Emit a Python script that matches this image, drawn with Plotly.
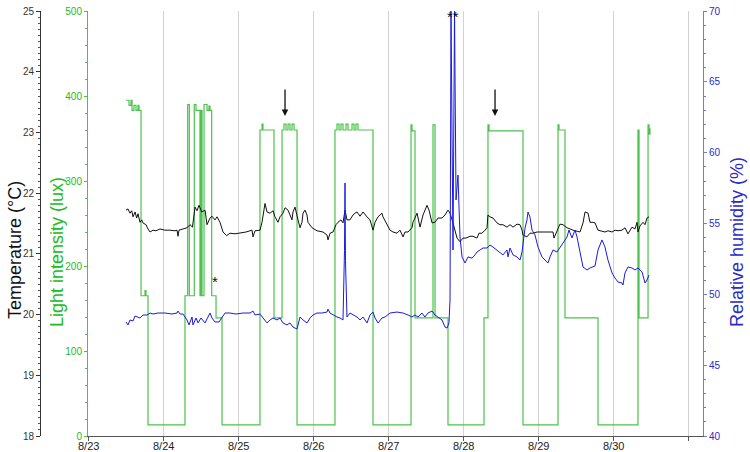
import pandas as pd
import plotly.graph_objects as go

BASE = pd.Timestamp("2013-08-23")

# ---------------- data (days since 8/23 00:00) ----------------
light_days = [0.507, 0.547, 0.573, 0.587, 0.613, 0.64, 0.667, 0.68, 0.707, 0.76, 0.773, 0.80,
              1.293, 1.329, 1.351, 1.417, 1.44, 1.493, 1.507, 1.52, 1.547, 1.587, 1.613, 1.627,
              1.649, 1.707, 1.787, 2.293, 2.32, 2.333, 2.48, 2.587, 2.613, 2.64, 2.667, 2.693,
              2.72, 2.747, 2.787, 3.293, 3.32, 3.347, 3.373, 3.40, 3.44, 3.467, 3.52, 3.547,
              3.573, 3.60, 3.80, 4.307, 4.32, 4.36, 4.60, 4.627, 4.80, 5.28, 5.333, 5.347,
              5.80, 6.267, 6.28, 6.36, 6.80, 7.333, 7.347, 7.467, 7.48, 7.493]
light_lux = [395, 389, 395, 383, 389, 383, 389, 383, 165, 171, 165, 13,
             165, 390, 165, 390, 383, 165, 383, 165, 390, 383, 388, 383,
             165, 139, 13, 360, 367, 360, 139, 360, 367, 360, 367, 360,
             367, 360, 13, 360, 367, 360, 367, 360, 367, 360, 367, 360,
             367, 360, 13, 366, 359, 139, 366, 139, 13, 139, 366, 359,
             13, 366, 360, 139, 13, 360, 139, 366, 355, 362]

temp_days = [0.507, 0.533, 0.56, 0.583, 0.60, 0.627, 0.649, 0.667, 0.693, 0.716, 0.733, 0.773,
             0.80, 0.827, 0.867, 0.907, 0.96, 1.027, 1.093, 1.16, 1.187, 1.20, 1.213, 1.267,
             1.32, 1.36, 1.393, 1.427, 1.453, 1.48, 1.516, 1.56, 1.587, 1.627, 1.653, 1.693,
             1.72, 1.76, 1.80, 1.849, 1.893, 1.96, 2.027, 2.107, 2.187, 2.20, 2.227, 2.293,
             2.32, 2.333, 2.36, 2.387, 2.427, 2.467, 2.493, 2.533, 2.56, 2.60, 2.627, 2.667,
             2.693, 2.72, 2.733, 2.76, 2.80, 2.827, 2.853, 2.867, 2.893, 2.92, 2.933, 2.987,
             3.053, 3.133, 3.187, 3.20, 3.227, 3.267, 3.307, 3.333, 3.373, 3.40, 3.427, 3.453,
             3.493, 3.533, 3.56, 3.587, 3.627, 3.667, 3.72, 3.76, 3.80, 3.827, 3.867, 3.92,
             3.933, 3.987, 4.027, 4.067, 4.12, 4.16, 4.20, 4.227, 4.267, 4.32, 4.333, 4.387,
             4.427, 4.467, 4.52, 4.547, 4.587, 4.627, 4.667, 4.72, 4.76, 4.80, 4.827, 4.867,
             4.893, 4.92, 4.96, 5.00, 5.04, 5.093, 5.133, 5.187, 5.213, 5.253, 5.293, 5.32,
             5.333, 5.36, 5.40, 5.453, 5.493, 5.533, 5.587, 5.627, 5.667, 5.72, 5.76, 5.787,
             5.80, 5.853, 5.893, 5.933, 5.987, 6.027, 6.12, 6.20, 6.213, 6.253, 6.293, 6.333,
             6.387, 6.467, 6.52, 6.56, 6.60, 6.627, 6.667, 6.693, 6.733, 6.76, 6.80, 6.853,
             6.893, 6.933, 6.987, 7.027, 7.067, 7.12, 7.16, 7.20, 7.227, 7.253, 7.293, 7.32,
             7.333, 7.36, 7.40, 7.427, 7.453, 7.48]
temp_c = [21.72, 21.74, 21.67, 21.71, 21.61, 21.69, 21.59, 21.66, 21.52, 21.56, 21.51, 21.48,
          21.41, 21.36, 21.39, 21.38, 21.41, 21.39, 21.39, 21.38, 21.39, 21.29, 21.39, 21.41,
          21.43, 21.48, 21.44, 21.77, 21.71, 21.80, 21.69, 21.72, 21.48, 21.59, 21.62, 21.56,
          21.61, 21.52, 21.36, 21.30, 21.34, 21.33, 21.34, 21.36, 21.39, 21.28, 21.38, 21.39,
          21.52, 21.64, 21.83, 21.69, 21.67, 21.71, 21.61, 21.52, 21.61, 21.67, 21.76, 21.72,
          21.64, 21.56, 21.69, 21.77, 21.56, 21.43, 21.52, 21.67, 21.72, 21.64, 21.52, 21.43,
          21.38, 21.36, 21.31, 21.23, 21.34, 21.36, 21.48, 21.52, 21.56, 21.51, 21.72, 21.56,
          21.56, 21.64, 21.67, 21.69, 21.62, 21.69, 21.61, 21.56, 21.39, 21.52, 21.61, 21.67,
          21.61, 21.48, 21.39, 21.36, 21.34, 21.39, 21.28, 21.36, 21.36, 21.43, 21.52, 21.67,
          21.44, 21.64, 21.80, 21.72, 21.51, 21.52, 21.59, 21.59, 21.64, 21.72, 21.67, 21.51,
          21.39, 21.26, 21.20, 21.26, 21.26, 21.29, 21.29, 21.26, 21.34, 21.34, 21.39, 21.43,
          21.64, 21.61, 21.59, 21.51, 21.48, 21.48, 21.44, 21.48, 21.44, 21.49, 21.48, 21.39,
          21.31, 21.28, 21.34, 21.34, 21.36, 21.36, 21.36, 21.36, 21.26, 21.39, 21.49, 21.48,
          21.43, 21.39, 21.38, 21.36, 21.51, 21.69, 21.67, 21.52, 21.52, 21.51, 21.39, 21.38,
          21.36, 21.38, 21.36, 21.39, 21.38, 21.39, 21.43, 21.33, 21.39, 21.44, 21.41, 21.52,
          21.36, 21.46, 21.52, 21.48, 21.59, 21.61]

rh_days = [0.507, 0.533, 0.56, 0.60, 0.627, 0.653, 0.693, 0.733, 0.787, 0.827, 0.867, 0.933,
           1.027, 1.12, 1.187, 1.20, 1.227, 1.267, 1.32, 1.347, 1.387, 1.40, 1.44, 1.467,
           1.507, 1.56, 1.60, 1.627, 1.653, 1.693, 1.747, 1.787, 1.827, 1.893, 1.973, 2.067,
           2.16, 2.20, 2.227, 2.293, 2.333, 2.387, 2.427, 2.467, 2.52, 2.56, 2.60, 2.653,
           2.693, 2.733, 2.787, 2.80, 2.827, 2.867, 2.92, 2.96, 3.00, 3.053, 3.12, 3.187,
           3.20, 3.227, 3.267, 3.32, 3.36, 3.40, 3.42, 3.427, 3.433, 3.453, 3.493, 3.533,
           3.587, 3.627, 3.667, 3.72, 3.76, 3.80, 3.827, 3.867, 3.92, 3.96, 4.027, 4.12,
           4.20, 4.267, 4.32, 4.36, 4.40, 4.453, 4.493, 4.533, 4.587, 4.627, 4.667, 4.72,
           4.76, 4.787, 4.813, 4.827, 4.84, 4.867, 4.887, 4.907, 4.933, 4.96, 4.987, 5.027,
           5.067, 5.12, 5.16, 5.187, 5.227, 5.267, 5.32, 5.36, 5.40, 5.453, 5.493, 5.533,
           5.587, 5.60, 5.627, 5.667, 5.72, 5.76, 5.787, 5.80, 5.827, 5.853, 5.867, 5.893,
           5.92, 5.96, 6.00, 6.053, 6.093, 6.133, 6.16, 6.20, 6.253, 6.293, 6.333, 6.387,
           6.413, 6.453, 6.493, 6.52, 6.56, 6.60, 6.653, 6.693, 6.76, 6.80, 6.853, 6.867,
           6.893, 6.933, 6.987, 7.027, 7.067, 7.12, 7.133, 7.16, 7.20, 7.253, 7.293, 7.333,
           7.387, 7.427, 7.453, 7.48]
rh_pct = [48.05, 47.84, 48.19, 48.12, 48.47, 48.40, 48.33, 48.54, 48.54, 48.68, 48.61, 48.68,
          48.68, 48.61, 48.68, 48.82, 48.61, 48.61, 48.19, 47.84, 48.40, 47.84, 48.33, 47.98,
          48.33, 47.98, 48.40, 48.68, 48.33, 48.05, 48.05, 48.33, 48.68, 48.68, 48.61, 48.68,
          48.68, 48.82, 48.54, 48.61, 48.33, 47.98, 48.19, 48.33, 48.19, 48.33, 47.98, 47.84,
          47.98, 47.69, 47.55, 47.84, 48.40, 48.19, 47.98, 48.33, 48.54, 48.68, 48.68, 48.75,
          48.96, 48.68, 48.54, 48.40, 48.33, 48.19, 53.1, 57.86, 52.4, 48.40, 48.68, 48.54,
          48.40, 48.19, 48.40, 47.98, 48.54, 48.75, 48.33, 47.98, 48.33, 48.40, 48.68, 48.75,
          48.68, 48.54, 48.40, 48.54, 48.40, 48.68, 48.40, 48.68, 48.82, 48.54, 48.40, 48.19,
          47.69, 47.62, 47.98, 49.6, 70.0, 53.13, 70.0, 56.66, 58.42, 54.05, 52.64, 52.21,
          52.64, 52.56, 52.78, 52.99, 53.13, 53.27, 53.27, 53.48, 53.34, 53.13, 52.99, 52.78,
          53.13, 52.64, 53.27, 52.78, 52.64, 52.42, 52.99, 53.62, 54.68, 55.25, 55.81, 55.46,
          54.54, 54.19, 53.34, 52.64, 52.42, 52.21, 52.64, 53.13, 52.99, 53.27, 53.62, 54.05,
          54.54, 53.98, 54.54, 54.05, 52.99, 51.93, 51.72, 51.86, 52.00, 53.13, 53.84, 53.69,
          53.34, 52.42, 51.51, 51.15, 50.87, 50.80, 50.66, 51.51, 51.93, 51.86, 51.72, 51.86,
          51.58, 50.80, 51.01, 51.36]

day_ticks = [0, 1, 2, 3, 4, 5, 6, 7, 8]
day_labels = ["8/23", "8/24", "8/25", "8/26", "8/27", "8/28", "8/29", "8/30", ""]


def to_time(days):
    return [BASE + pd.Timedelta(days=d) for d in days]


GREEN_LINE = "#4cc24c"
GREEN_TXT = "#22bb22"
BLUE_LINE = "#1a1ae0"
BLUE_TXT = "#2a2acc"
FONT = "Liberation Sans, Arial, sans-serif"

fig = go.Figure()
fig.add_trace(go.Scatter(x=to_time(light_days), y=light_lux, mode="lines",
                         line=dict(color=GREEN_LINE, width=1.2, shape="hv"),
                         yaxis="y", showlegend=False))
fig.add_trace(go.Scatter(x=to_time(temp_days), y=temp_c, mode="lines",
                         line=dict(color="#111111", width=1),
                         yaxis="y2", showlegend=False))
fig.add_trace(go.Scatter(x=to_time(rh_days), y=rh_pct, mode="lines",
                         line=dict(color=BLUE_LINE, width=1),
                         yaxis="y3", showlegend=False))

W, H = 750, 452
ML, MR, MT, MB = 30, 47, 11, 16
pw = W - ML - MR
x_start = (88 - ML) / pw
temp_pos = (40 - ML) / pw

fig.update_layout(
    width=W, height=H,
    margin=dict(l=ML, r=MR, t=MT, b=MB, autoexpand=False),
    plot_bgcolor="white", paper_bgcolor="white",
    font=dict(family=FONT, size=10, color="#333333"),
    xaxis=dict(
        domain=[x_start, 1], automargin=False,
        range=[BASE, BASE + pd.Timedelta(days=8.2)],
        tickvals=to_time(day_ticks), showticklabels=False,
        showgrid=True, gridcolor="#d2d2d2", gridwidth=1,
        showline=True, linecolor="#555555", linewidth=1,
        ticks="outside", ticklen=4, tickcolor="#555555",
        zeroline=False,
    ),
    yaxis=dict(
        range=[0, 500], dtick=100, automargin=False,
        showgrid=False, zeroline=False,
        showline=True, linecolor=GREEN_LINE, linewidth=1,
        ticks="outside", ticklen=3, tickcolor=GREEN_LINE,
        minor=dict(dtick=20, ticklen=2, tickcolor=GREEN_LINE, ticks="outside"),
        tickfont=dict(size=10, color=GREEN_TXT),
    ),
    yaxis2=dict(
        overlaying="y", side="left", anchor="free", position=temp_pos, automargin=False,
        range=[18, 25], dtick=1,
        showgrid=False, zeroline=False,
        showline=True, linecolor="#333333", linewidth=1,
        ticks="outside", ticklen=4, tickcolor="#333333",
        minor=dict(dtick=0.1, ticklen=2, tickcolor="#555555", ticks="outside"),
        tickfont=dict(size=10, color="#333333"),
    ),
    yaxis3=dict(
        overlaying="y", side="right", anchor="x", automargin=False,
        range=[40, 70], dtick=5,
        showgrid=False, zeroline=False,
        showline=True, linecolor="#7777dd", linewidth=1,
        ticks="outside", ticklen=3, tickcolor="#7777dd",
        minor=dict(dtick=1, ticklen=2, tickcolor="#7777dd", ticks="outside"),
        tickfont=dict(size=10, color=BLUE_TXT),
    ),
)


def py(ypix):
    return (H - MB - ypix) / (H - MT - MB)


def px(xpix):
    return (xpix - ML) / pw


# date tick labels (placed as text so they sit fully inside the picture)
for d, lab in zip(day_ticks, day_labels):
    if lab:
        fig.add_annotation(x=BASE + pd.Timedelta(days=d), y=py(438.5), xref="x", yref="paper",
                           text=lab, showarrow=False, xanchor="center", yanchor="top",
                           borderpad=0, font=dict(size=11, color="#222222"))

# axis titles
for text, xp, yp, col in [("Temperature (°C)", 15, 250, "#111111"),
                          ("Light intensity (lux)", 57, 252, GREEN_TXT),
                          ("Relative humidity (%)", 737, 242, BLUE_TXT)]:
    fig.add_annotation(x=px(xp), y=py(yp), xref="paper", yref="paper", text=text,
                       textangle=-90, showarrow=False, xanchor="center", yanchor="middle",
                       font=dict(size=18, color=col))

for d in [2.627, 5.427]:
    fig.add_annotation(x=BASE + pd.Timedelta(days=d), y=py(116), xref="x", yref="paper",
                       ax=0, ay=-28, showarrow=True, arrowhead=2, arrowsize=1,
                       arrowwidth=1.3, arrowcolor="#111111", text="")

fig.add_annotation(x=BASE + pd.Timedelta(days=1.693), y=py(281), xref="x", yref="paper",
                   text="*", showarrow=False, font=dict(size=15, color="#111111"))
fig.add_annotation(x=BASE + pd.Timedelta(days=4.86), y=py(6), xref="x", yref="paper",
                   text="**", showarrow=False, font=dict(size=15, color="#111111"))

fig.write_html(
    "out.html",
    config={"displayModeBar": False},
    post_script="document.body.style.margin='0';document.body.style.overflow='hidden';",
)
